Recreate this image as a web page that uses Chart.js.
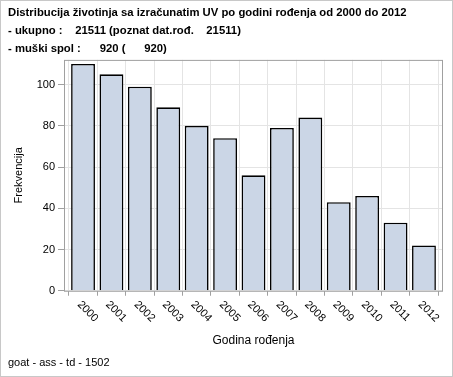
<!DOCTYPE html>
<html>
<head>
<meta charset="utf-8">
<script src="https://cdn.jsdelivr.net/npm/chart.js@4.4.1/dist/chart.umd.min.js"></script>
<style>
  body { margin: 0; background: #fff; }
  #wrap { width: 453px; height: 377px; box-sizing: border-box; border: 1px solid #c8c8c8; }
  canvas { display: block; }
</style>
</head>
<body>
<div id="wrap"><canvas id="graf" width="451" height="375"></canvas></div>
<script>
// podaci
const godine = ['2000','2001','2002','2003','2004','2005','2006','2007','2008','2009','2010','2011','2012'];
const frekvencije = [110, 105, 99, 89, 80, 74, 56, 79, 84, 43, 46, 33, 22];
const yOznake = [0, 20, 40, 60, 80, 100];
const naslov = [
  'Distribucija životinja sa izračunatim UV po godini rođenja od 2000 do 2012',
  '- ukupno :    21511 (poznat dat.rođ.    21511)',
  '- muški spol :      920 (      920)'
];
const podnozje = 'goat - ass - td - 1502';

const FONT = 'Arial, "Liberation Sans", sans-serif';

// okvir oko podrucja grafa + zarotirane oznake godina
const okvir = {
  id: 'okvir',
  afterDraw(chart) {
    const ctx = chart.ctx, a = chart.chartArea;
    ctx.save();
    ctx.strokeStyle = '#a0a0a0';
    ctx.lineWidth = 1;
    ctx.strokeRect(a.left + 0.5, a.top + 0.5, a.right - a.left - 1, a.bottom - a.top);
    const x = chart.scales.x;
    ctx.fillStyle = '#000';
    ctx.font = '11px ' + FONT;
    ctx.textAlign = 'left';
    ctx.textBaseline = 'middle';
    godine.forEach((g, i) => {
      const px = x.getPixelForValue(i);
      ctx.save();
      ctx.translate(px - 4, a.bottom + 12);
      ctx.rotate(Math.PI / 4);
      ctx.fillText(g, 0, 0);
      ctx.restore();
    });
    ctx.restore();
  }
};

const podaci = frekvencije.map((v, i) => ({ x: i, y: v }));

new Chart(document.getElementById('graf'), {
  type: 'bar',
  data: {
    datasets: [{
      data: podaci,
      backgroundColor: '#cbd6e6',
      borderColor: '#000',
      borderWidth: 1.6,
      barPercentage: 0.84,
      categoryPercentage: 1
    }]
  },
  options: {
    responsive: false,
    animation: false,
    layout: { padding: { left: 7, right: 9, top: 0, bottom: 2 } },
    plugins: {
      legend: { display: false },
      tooltip: { enabled: false },
      title: {
        display: true,
        text: naslov,
        align: 'start',
        color: '#000',
        font: { family: FONT, size: 11.3, weight: 'bold', lineHeight: 1.59 },
        padding: { top: 3, bottom: 2 }
      },
      subtitle: {
        display: true,
        position: 'bottom',
        text: podnozje,
        align: 'start',
        color: '#000',
        font: { family: FONT, size: 11, weight: 'normal' },
        padding: { top: 2, bottom: 4 }
      }
    },
    scales: {
      x: {
        type: 'linear',
        min: -0.67,
        max: 12.67,
        offset: false,
        afterBuildTicks: s => { s.ticks = godine.map((g, i) => ({ value: i })); },
        ticks: {
          color: 'rgba(0,0,0,0)',
          font: { family: FONT, size: 11 },
          minRotation: 45,
          maxRotation: 45,
          autoSkip: false,
          callback: v => godine[v]
        },
        grid: { color: '#e4e4e4', tickColor: '#a0a0a0', tickLength: 5 },
        border: { display: false },
        title: {
          display: true,
          text: 'Godina rođenja',
          color: '#000',
          font: { family: FONT, size: 12 },
          padding: { top: 5, bottom: 7 }
        }
      },
      y: {
        min: 0,
        max: 112,
        afterBuildTicks: s => { s.ticks = yOznake.map(v => ({ value: v })); },
        afterFit: s => { s.width = 56; },
        ticks: {
          color: '#000',
          font: { family: FONT, size: 11 },
          padding: 3
        },
        grid: { color: '#e4e4e4', tickColor: '#a0a0a0', tickLength: 6 },
        border: { display: false },
        title: {
          display: true,
          text: 'Frekvencija',
          color: '#000',
          font: { family: FONT, size: 11 },
          padding: { top: 4, bottom: 2 }
        }
      }
    }
  },
  plugins: [okvir]
});
</script>
</body>
</html>
